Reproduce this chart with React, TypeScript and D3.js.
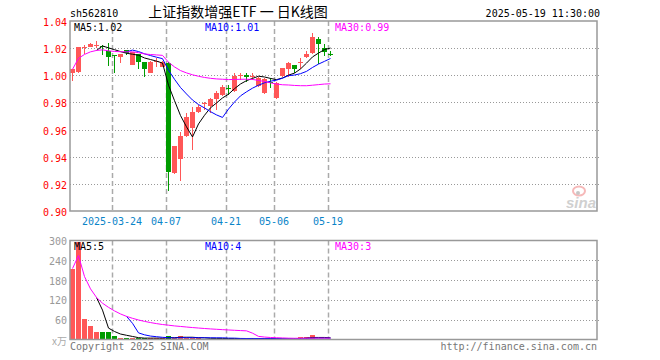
import React from "react";
import * as d3 from "d3";

// ---- data ----
const opens = [1.002, 1.0025, 1.0205, 1.021, 1.0222, 1.0215, 1.0181, 1.015, 1.0137, 1.0186, 1.0076, 1.0157, 1.01, 1.002, 1.01, 1.0064, 1.0088, 0.928, 0.938, 0.955, 0.961, 0.9726, 0.9785, 0.9775, 0.9826, 0.9855, 0.9906, 0.9887, 0.9995, 1.0, 0.999, 0.9922, 0.9868, 0.995, 0.983, 0.9998, 1.0044, 1.0078, 1.0098, 1.0137, 1.0162, 1.0266, 1.0198, 1.0157];
const highs = [1.005, 1.021, 1.022, 1.0235, 1.0255, 1.0225, 1.0235, 1.0152, 1.016, 1.019, 1.0175, 1.0157, 1.01, 1.0105, 1.0125, 1.0105, 1.0098, 0.9476, 0.958, 0.972, 0.9765, 0.978, 0.9806, 0.983, 0.9885, 0.993, 0.993, 1.0015, 1.002, 1.002, 1.0015, 0.999, 0.998, 0.998, 0.995, 1.0056, 1.01, 1.0078, 1.013, 1.0181, 1.0314, 1.0284, 1.023, 1.0181];
const lows = [0.996, 1.002, 1.016, 1.0205, 1.0198, 1.0149, 1.0071, 1.0015, 1.009, 1.015, 1.0074, 1.0044, 0.999, 1.0015, 1.0064, 1.006, 0.915, 0.927, 0.922, 0.9545, 0.9446, 0.972, 0.9745, 0.972, 0.9745, 0.985, 0.9855, 0.988, 0.9966, 0.995, 0.9966, 0.9917, 0.9865, 0.9905, 0.9825, 0.999, 0.999, 1.0015, 1.005, 1.0125, 1.016, 1.008, 1.0142, 1.0142];
const closes = [1.0044, 1.0206, 1.0211, 1.023, 1.0225, 1.0208, 1.0137, 1.0145, 1.0157, 1.0165, 1.0172, 1.01, 1.0044, 1.01, 1.0106, 1.01, 0.9285, 0.9476, 0.955, 0.969, 0.9726, 0.9765, 0.9795, 0.9826, 0.9868, 0.9912, 0.9902, 0.9998, 1.0, 0.999, 0.9995, 0.9983, 0.997, 0.9946, 0.9946, 1.0056, 1.0088, 1.0044, 1.01, 1.016, 1.0284, 1.023, 1.0174, 1.0155];
const volumes = [215, 294, 63, 42, 23, 23, 22, 11, 4, 4, 5, 4, 4, 4, 4, 4, 11, 4, 11, 4, 4, 4, 3, 3, 3, 3, 3, 3, 2, 2, 5, 2, 2, 2, 2, 2, 2, 2, 7, 7, 13, 2, 2, 1];

const priceTicks = [1.04, 1.02, 1.0, 0.98, 0.96, 0.94, 0.92, 0.9];
const volumeTicks = [300, 240, 180, 120, 60];
const dateTickIndex = [7, 16, 26, 34, 43];
const dateTickLabels = ["2025-03-24", "04-07", "04-21", "05-06", "05-19"];
const maLegendPrice = ["1.02", "1.01", "0.99"];
const maLegendVol = ["5", "4", "3"];
const maNames = ["MA5", "MA10", "MA30"];
const maPeriods = [5, 10, 30];

const UP = "#ff5757";
const DOWN = "#009c00";
const MA_COLORS = ["#000000", "#0000ff", "#ff00ff"];
const MONO = "'DejaVu Sans Mono', 'Liberation Mono', monospace";

function movingAvg(vals: number[], n: number, expanding: boolean) {
  return vals.map((_, i) => {
    if (i < n - 1 && !expanding) return null;
    const s = Math.max(0, i - n + 1);
    return d3.mean(vals.slice(s, i + 1)) as number;
  });
}

export default function App() {
  const W = 660, H = 360;
  const L = 70, R = 597;
  const pTop = 21, pBot = 211;
  const vTop = 240.5, vBot = 339.5;

  const x = d3.scaleLinear().domain([0, 88]).range([70, 598]);
  const yP = d3.scaleLinear().domain([0.9, 1.04]).range([pBot, pTop]);
  const yV = d3.scaleLinear().domain([0, 300]).range([vBot, vTop]);

  const idx = closes.map((_, i) => i);
  const cx = (i: number) => x(i) + 2.5;

  const priceMA = maPeriods.map((n, j) => movingAvg(closes, n, j === 2));
  const volMA = maPeriods.map((n, j) => movingAvg(volumes, n, j === 2));

  const lineGen = (ys: (number | null)[], scale: d3.ScaleLinear<number, number>) =>
    d3
      .line<number>()
      .defined((i) => ys[i] != null)
      .x((i) => cx(i))
      .y((i) => scale(ys[i] as number))(idx) || "";

  return (
    <svg
      width={W}
      height={H}
      style={{ position: "fixed", left: 0, top: 0, background: "#fff" }}
      fontFamily={MONO}
    >
      <rect x={0} y={0} width={W} height={H} fill="#fff" />
      {/* header */}
      <text x={70} y={17} fontSize={10} fill="#000">sh562810</text>
      <text x={238} y={16.5} fontSize={14} textAnchor="middle" fill="#000" fontFamily="'Noto Sans CJK SC', sans-serif">
        上证指数增强ETF 一 日K线图
      </text>
      <text x={600} y={17} fontSize={10} textAnchor="end" fill="#000">2025-05-19 11:30:00</text>

      {/* main gridlines */}
      {priceTicks.slice(1, -1).map((t) => (
        <line key={t} x1={L} x2={600} y1={Math.round(yP(t)) + 0.5} y2={Math.round(yP(t)) + 0.5} stroke="#999" strokeDasharray="1,2" />
      ))}
      {volumeTicks.slice(1).map((t) => (
        <line key={t} x1={L} x2={600} y1={Math.round(yV(t)) + 0.5} y2={Math.round(yV(t)) + 0.5} stroke="#999" strokeDasharray="1,2" />
      ))}
      {/* vertical dashed date lines */}
      {dateTickIndex.map((k) => (
        <g key={k}>
          <line x1={x(k) + 0.5} x2={x(k) + 0.5} y1={pTop} y2={pBot} stroke="#aaa" strokeWidth={1.5} strokeDasharray="5,3" />
          <line x1={x(k) + 0.5} x2={x(k) + 0.5} y1={vTop} y2={vBot} stroke="#aaa" strokeWidth={1.5} strokeDasharray="5,3" />
        </g>
      ))}

      {/* sina watermark */}
      <g opacity={0.55}>
        <ellipse cx={579} cy={191} rx={6} ry={4.5} fill="none" stroke="#f08080" strokeWidth={2} />
        <circle cx={578} cy={193} r={2} fill="#999" />
        <text x={566} y={208} fontSize={15} fontStyle="italic" fontWeight="bold" fill="#aaa" fontFamily="Arial, 'Liberation Sans', sans-serif">sina</text>
      </g>

      {/* candles */}
      {idx.map((i) => {
        const up = closes[i] >= opens[i];
        const color = up ? UP : DOWN;
        const top = Math.round(yP(Math.max(opens[i], closes[i])));
        const bot = Math.round(yP(Math.min(opens[i], closes[i])));
        const hy = Math.round(yP(highs[i]));
        const ly = Math.round(yP(lows[i]));
        return (
          <g key={i}>
            <rect x={x(i) + 2} y={hy} width={1} height={Math.max(1, ly - hy)} fill={color} />
            <rect x={x(i)} y={top} width={5} height={Math.max(1, bot - top)} fill={color} />
          </g>
        );
      })}
      {/* price MA lines */}
      {priceMA.map((m, j) => (
        <path key={j} d={lineGen(m, yP)} fill="none" stroke={MA_COLORS[j]} strokeWidth={1} />
      ))}

      {/* volume bars */}
      {idx.map((i) => {
        const up = closes[i] >= opens[i];
        const top = Math.round(yV(volumes[i]));
        return (
          <rect key={i} x={x(i)} y={top} width={5} height={Math.max(1, vBot - top)} fill={up ? UP : DOWN} />
        );
      })}
      {volMA.map((m, j) => (
        <path key={j} d={lineGen(m, yV)} fill="none" stroke={MA_COLORS[j]} strokeWidth={1} />
      ))}

      {/* frames */}
      <rect x={L} y={pTop} width={R - L} height={pBot - pTop} fill="none" stroke="#999" strokeWidth={1.5} />
      <rect x={L} y={vTop} width={R - L} height={vBot - vTop} fill="none" stroke="#999" strokeWidth={1.5} />

      {/* legends */}
      {maNames.map((n, j) => (
        <text key={"p" + j} x={[74, 205, 335][j]} y={30.5} fontSize={10} fill={MA_COLORS[j]}>
          {n}:{maLegendPrice[j]}
        </text>
      ))}
      {maNames.map((n, j) => (
        <text key={"v" + j} x={[74, 205, 335][j]} y={250} fontSize={10} fill={MA_COLORS[j]}>
          {n}:{maLegendVol[j]}
        </text>
      ))}

      {/* axis labels */}
      {priceTicks.map((t) => (
        <text key={t} x={67} y={yP(t) + 5} fontSize={10} textAnchor="end" fill="#ff0000">
          {t.toFixed(2)}
        </text>
      ))}
      {volumeTicks.map((t) => (
        <text key={t} x={67} y={yV(t) + 4.5} fontSize={10} textAnchor="end" fill="#999">
          {t}
        </text>
      ))}
      <text x={67} y={vBot + 5} fontSize={10} textAnchor="end" fill="#aaa" fontFamily="'Noto Sans CJK SC', sans-serif">x万</text>
      {dateTickIndex.map((k, j) => (
        <text key={k} x={x(k)} y={225} fontSize={10} textAnchor="middle" fill="#0a84c8">
          {dateTickLabels[j]}
        </text>
      ))}

      {/* footer */}
      <text x={70} y={350} fontSize={10} fill="#777">Copyright 2025 SINA.COM</text>
      <text x={597} y={350} fontSize={10} textAnchor="end" fill="#777">http://finance.sina.com.cn</text>
    </svg>
  );
}
